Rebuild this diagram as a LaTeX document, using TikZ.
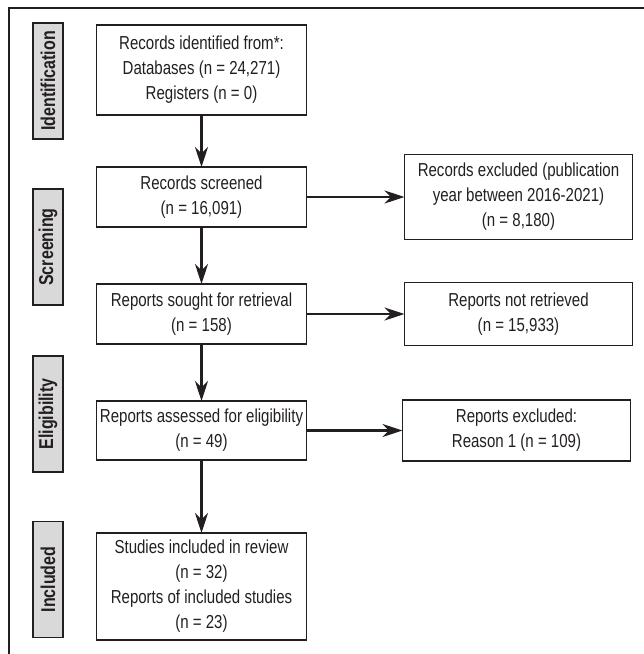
\documentclass[tikz,border=0pt]{standalone}
\usepackage{fontspec}
\setmainfont{Liberation Sans}[FakeStretch=0.8]
\usetikzlibrary{arrows.meta,positioning}
\definecolor{inkgray}{HTML}{231F20}
\definecolor{phasefill}{HTML}{D9D9D9}

\begin{document}
\begin{tikzpicture}[
    x=1pt, y=-1pt,
    record/.style={draw=inkgray, line width=1.4pt, minimum width=210pt, align=center,
      font=\fontsize{18.8}{25}\selectfont, text=inkgray, inner sep=2pt, outer sep=0pt},
    sidebox/.style={record, minimum width=228pt},
    phase/.style={draw=inkgray, line width=1.4pt, fill=phasefill, rotate=90,
      minimum width=116pt, minimum height=30pt, inner sep=0pt,
      font=\bfseries\fontsize{20}{22}\selectfont, text=inkgray},
    flow/.style={-{Stealth[length=20pt, width=13pt]}, line width=2.6pt, draw=inkgray},
  ]
  \useasboundingbox (0,0) rectangle (644,654);
  % frame
  \draw[inkgray, line width=2.2pt] (9,654) -- (9,8) -- (644,8);

  % Phases
  \node[phase] (phident) at (48,81) {Identification};
  \node[phase] (phscreen) at (48,247) {Screening};
  \node[phase] (phelig) at (48,414) {Eligibility};
  \node[phase] (phincl) at (48,579.5) {Included};

  % Main column
  \node[record, minimum height=90pt] (identified) at (201.5,70)
    {Records identified from*:\\Databases (n = 24,271)\\Registers (n = 0)};
  \node[record, minimum height=60pt, below=52pt of identified] (screened)
    {Records screened\\(n = 16,091)};
  \node[record, minimum height=60pt, below=57pt of screened] (sought)
    {Reports sought for retrieval\\(n = 158)};
  \node[record, minimum height=59pt, below=57pt of sought] (assessed)
    {Reports assessed for eligibility\\(n = 49)};
  \node[record, minimum height=107pt, below=73pt of assessed] (included)
    {Studies included in review\\(n = 32)\\Reports of included studies\\(n = 23)};

  % Side column
  \node[sidebox, minimum height=85pt, right=98pt of screened] (excluded)
    {Records excluded (publication\\year between 2016-2021)\\(n = 8,180)};
  \node[sidebox, minimum height=63pt, right=98pt of sought] (notretrieved)
    {Reports not retrieved\\(n = 15,933)};
  \node[sidebox, minimum height=61pt, right=96pt of assessed] (reportsexcl)
    {Reports excluded:\\Reason 1 (n = 109)};

  % Arrows
  \draw[flow] (identified) -- (screened);
  \draw[flow] (screened) -- (sought);
  \draw[flow] (sought) -- (assessed);
  \draw[flow] (assessed) -- (included);
  \draw[flow] (screened) -- (excluded);
  \draw[flow] (sought) -- (notretrieved);
  \draw[flow] (assessed) -- (reportsexcl);
\end{tikzpicture}
\end{document}
